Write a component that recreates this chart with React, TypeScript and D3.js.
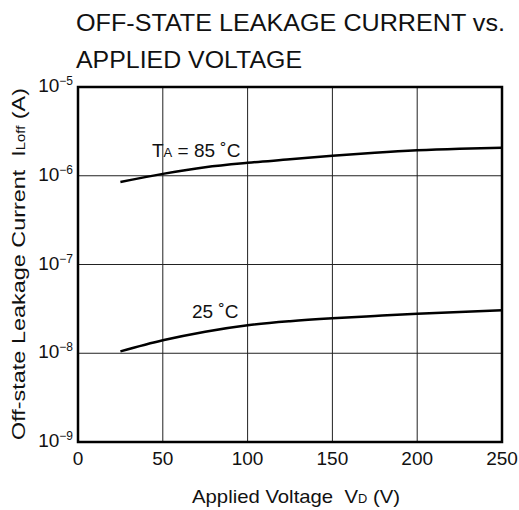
import React from 'react';
import * as d3 from 'd3';

// voltage points (V) and leakage current (A)
const voltages = [25, 50, 75, 100, 125, 150, 175, 200, 225, 250];
const leak85 = [8.5e-7, 1.05e-6, 1.25e-6, 1.4e-6, 1.53e-6, 1.68e-6, 1.82e-6, 1.94e-6, 2.02e-6, 2.07e-6];
const leak25 = [1.05e-8, 1.4e-8, 1.75e-8, 2.07e-8, 2.3e-8, 2.48e-8, 2.63e-8, 2.78e-8, 2.92e-8, 3.05e-8];

const xTicks = [0, 50, 100, 150, 200, 250];
const yExps = [-5, -6, -7, -8, -9];

const W = 519;
const H = 510;
const margin = { top: 87, right: 17, bottom: 68, left: 78 };
const font = 'Liberation Sans, Arial, sans-serif';

const App: React.FC = () => {
  const x = d3.scaleLinear().domain([0, 250]).range([margin.left, W - margin.right]);
  const y = d3.scaleLog().domain([1e-9, 1e-5]).range([H - margin.bottom, margin.top]);

  const line = d3
    .line<[number, number]>()
    .x((d) => x(d[0]))
    .y((d) => y(d[1]))
    .curve(d3.curveMonotoneX);

  const pts85 = voltages.map((v, i) => [v, leak85[i]] as [number, number]);
  const pts25 = voltages.map((v, i) => [v, leak25[i]] as [number, number]);

  const x0 = x(0);
  const x1 = x(250);
  const y0 = y(1e-9);
  const y1 = y(1e-5);

  return (
    <svg width={W} height={H} style={{ position: 'absolute', left: 0, top: 0 }} fontFamily={font}>
      <rect width={W} height={H} fill="#fff" />
      <text x={76} y={31} fontSize={23} fill="#111" textLength={429} lengthAdjust="spacingAndGlyphs">
        OFF-STATE LEAKAGE CURRENT vs.
      </text>
      <text x={76} y={68} fontSize={23} fill="#111" textLength={226} lengthAdjust="spacingAndGlyphs">
        APPLIED VOLTAGE
      </text>

      {/* grid */}
      {xTicks.slice(1, -1).map((t) => (
        <line key={`gx${t}`} x1={x(t)} x2={x(t)} y1={y1} y2={y0} stroke="#222" strokeWidth={1} />
      ))}
      {yExps.slice(1, -1).map((e) => (
        <line key={`gy${e}`} x1={x0} x2={x1} y1={y(Math.pow(10, e))} y2={y(Math.pow(10, e))} stroke="#222" strokeWidth={1} />
      ))}

      {/* curves */}
      <path d={line(pts85) ?? ''} fill="none" stroke="#000" strokeWidth={2.5} />
      <path d={line(pts25) ?? ''} fill="none" stroke="#000" strokeWidth={2.5} />

      {/* frame */}
      <rect x={x0} y={y1} width={x1 - x0} height={y0 - y1} fill="none" stroke="#000" strokeWidth={2.5} />

      {/* y tick labels */}
      {yExps.map((e) => (
        <text key={`yt${e}`} x={73} y={y(Math.pow(10, e)) + 5} fontSize={19} textAnchor="end" fill="#111">
          10<tspan fontSize={12} dy={-7}>{`\u2212${-e}`}</tspan>
        </text>
      ))}

      {/* x tick labels */}
      {xTicks.map((t) => (
        <text key={`xt${t}`} x={x(t)} y={465} fontSize={19} textAnchor="middle" fill="#111">{t}</text>
      ))}

      {/* curve labels */}
      <text x={152} y={157} fontSize={19} fill="#111">
        T<tspan fontSize={13}>A</tspan> = 85 ˚C
      </text>
      <text x={192} y={318} fontSize={19} fill="#111">25 ˚C</text>

      {/* axis titles */}
      <text x={192} y={503} fontSize={19} fill="#111" textLength={208} lengthAdjust="spacingAndGlyphs" xmlSpace="preserve">
        Applied Voltage  V<tspan fontSize={12}>D</tspan> (V)
      </text>
      <text
        transform={`translate(25, 440) rotate(-90)`}
        fontSize={19}
        fill="#111"
        textLength={352}
        lengthAdjust="spacingAndGlyphs"
        xmlSpace="preserve"
      >
        Off-state Leakage Current  I<tspan fontSize={12}>Loff</tspan> (A)
      </text>
    </svg>
  );
};

export default App;
